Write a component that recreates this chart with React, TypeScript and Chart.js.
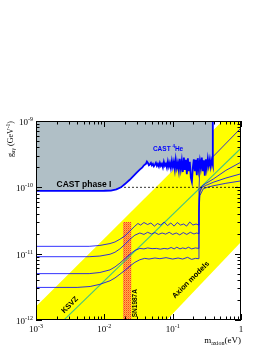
import React, { useEffect, useRef } from 'react';
import { Chart, registerables } from 'chart.js';

Chart.register(...registerables);

const SERIF = '"Liberation Serif", "Times New Roman", serif';
const SANS = '"Liberation Sans", Arial, Helvetica, sans-serif';

// ---- axes ----
const massMin = 1e-3;
const massMax = 1;
const couplingMin = 1e-12;
const couplingMax = 1e-9;
const xMajorTicks = [1e-3, 1e-2, 1e-1, 1];
const xTickBase = ['10', '10', '10', '1'];
const xTickExp = ['-3', '-2', '-1', ''];
const yMajorTicks = [1e-12, 1e-11, 1e-10, 1e-9];
const yTickBase = ['10', '10', '10', '10'];
const yTickExp = ['-12', '-11', '-10', '-9'];

// ---- axion model band (yellow) ----
const bandUpperMass = [1e-3, 1];
const bandUpperCoupling = [1.6e-12, 1.9e-9];
const bandLowerMass = [0.082, 1];
const bandLowerCoupling = [1e-12, 1.5e-11];

// ---- KSVZ line ----
const ksvzMass = [1e-3, 1];
const ksvzCoupling = [3.9e-13, 3.9e-10];

// ---- SN1987A band ----
const snMass = [0.0187, 0.025];
const snCoupling = [3e-11, 3e-11];

// ---- CAST phase I reference (dashed) ----
const refMass = [1e-3, 1];
const refCoupling = [1e-10, 1e-10];

// ---- CAST exclusion (phase I + 4He) ----
const castMass = [
  0.001, 0.005, 0.0100, 0.0125, 0.0150, 0.0175, 0.020, 0.0235, 0.027, 0.030, 0.033, 0.036, 0.038,
  0.0406, 0.0420, 0.0434, 0.0449, 0.0465, 0.0481, 0.0497, 0.0514, 0.0531, 0.0550,
  0.0568, 0.0588, 0.0608, 0.0629, 0.0650, 0.0672, 0.0695, 0.0719, 0.0743, 0.0769,
  0.0796, 0.0823, 0.0851, 0.0880, 0.0910, 0.0941, 0.0973, 0.1006, 0.104, 0.1076,
  0.111, 0.1151, 0.119, 0.1231, 0.127, 0.1316, 0.136, 0.1407, 0.146, 0.1506,
  0.156, 0.1612, 0.167, 0.1724, 0.178, 0.1844, 0.191, 0.1972, 0.204, 0.2109,
  0.218, 0.2255, 0.233, 0.2412, 0.250, 0.2580, 0.267, 0.2760, 0.286, 0.2952,
  0.306, 0.3157, 0.327, 0.3377, 0.350, 0.3612, 0.374, 0.387, 0.387,
];
const castCoupling = [
  8.85e-11, 8.85e-11, 8.88e-11, 8.95e-11, 9.3e-11, 1.0e-10, 1.12e-10, 1.3e-10, 1.5e-10, 1.68e-10, 1.85e-10, 2.0e-10, 2.15e-10,
  2.26e-10, 2.45e-10, 2.34e-10, 2.15e-10, 2.22e-10, 2.34e-10, 2.15e-10, 2.26e-10, 2.08e-10, 2.2e-10,
  2.34e-10, 2.11e-10, 2.26e-10, 2.06e-10, 2.34e-10, 2.11e-10, 2.26e-10, 2.0e-10, 2.42e-10, 2.11e-10,
  2.26e-10, 1.98e-10, 2.45e-10, 2.05e-10, 2.34e-10, 1.95e-10, 2.5e-10, 2.03e-10, 2.42e-10, 1.86e-10,
  2.6e-10, 1.96e-10, 2.34e-10, 1.8e-10, 2.7e-10, 1.9e-10, 2.5e-10, 1.7e-10, 2.8e-10, 1.83e-10,
  2.59e-10, 1.58e-10, 2.75e-10, 1.75e-10, 2.42e-10, 1.4e-10, 1.21e-10, 1.96e-10, 2.65e-10, 1.75e-10,
  2.59e-10, 1.52e-10, 2.75e-10, 1.85e-10, 2.50e-10, 1.96e-10, 2.8e-10, 1.75e-10, 2.55e-10, 1.5e-10,
  2.65e-10, 1.96e-10, 2.7e-10, 2.11e-10, 2.62e-10, 2.05e-10, 2.55e-10, 2.18e-10, 1.5e-9,
];

// ---- sensitivity curves ----
const aMass = [0.001, 0.006, 0.0086, 0.0121, 0.0143, 0.0169, 0.020, 0.0237, 0.028, 0.031, 0.034, 0.038, 0.043, 0.048, 0.054, 0.060, 0.067, 0.075, 0.084, 0.094, 0.105, 0.117, 0.130, 0.145, 0.160, 0.178, 0.198, 0.220, 0.2415, 0.2425, 0.250, 0.300, 0.387, 1];
const aCoupling = [1.29e-11, 1.29e-11, 1.33e-11, 1.42e-11, 1.5e-11, 1.65e-11, 1.85e-11, 2.2e-11, 2.6e-11, 2.85e-11, 2.7e-11, 2.95e-11, 2.75e-11, 2.9e-11, 2.6e-11, 2.85e-11, 2.7e-11, 3.0e-11, 2.65e-11, 2.9e-11, 2.6e-11, 2.95e-11, 2.7e-11, 2.8e-11, 2.6e-11, 3.0e-11, 2.7e-11, 2.8e-11, 2.7e-11, 9e-11, 2.0e-10, 2.45e-10, 2.88e-10, 7.85e-10];

const bMass = [0.001, 0.006, 0.0086, 0.0121, 0.0143, 0.0169, 0.020, 0.0237, 0.028, 0.0331, 0.038, 0.043, 0.049, 0.055, 0.062, 0.070, 0.079, 0.089, 0.100, 0.113, 0.127, 0.143, 0.161, 0.181, 0.205, 0.225, 0.2415, 0.2425, 0.250, 0.270, 0.300, 0.400, 0.600, 1];
const bCoupling = [9.0e-12, 9.0e-12, 9.2e-12, 9.8e-12, 1.05e-11, 1.18e-11, 1.38e-11, 1.65e-11, 1.9e-11, 2.05e-11, 1.95e-11, 2.1e-11, 1.98e-11, 2.08e-11, 1.95e-11, 2.05e-11, 1.97e-11, 2.1e-11, 1.95e-11, 2.05e-11, 1.92e-11, 2.08e-11, 1.95e-11, 2.1e-11, 1.98e-11, 2.05e-11, 2.0e-11, 6.5e-11, 9.0e-11, 1.05e-10, 1.13e-10, 1.35e-10, 1.8e-10, 2.4e-10];

const cMass = [0.001, 0.006, 0.0086, 0.0121, 0.0143, 0.0169, 0.020, 0.0237, 0.028, 0.0331, 0.038, 0.043, 0.050, 0.058, 0.066, 0.075, 0.085, 0.095, 0.105, 0.115, 0.128, 0.140, 0.155, 0.170, 0.190, 0.215, 0.2415, 0.2425, 0.250, 0.270, 0.300, 0.400, 0.600, 1];
const cCoupling = [5.0e-12, 5.0e-12, 5.2e-12, 5.7e-12, 6.3e-12, 7.2e-12, 8.4e-12, 9.8e-12, 1.12e-11, 1.2e-11, 1.18e-11, 1.22e-11, 1.19e-11, 1.2e-11, 1.17e-11, 1.2e-11, 1.18e-11, 1.24e-11, 1.18e-11, 1.25e-11, 1.18e-11, 1.22e-11, 1.19e-11, 1.25e-11, 1.18e-11, 1.22e-11, 1.2e-11, 5.0e-11, 8.5e-11, 1.0e-10, 1.06e-10, 1.2e-10, 1.38e-10, 1.6e-10];

const dMass = [0.001, 0.004, 0.0062, 0.0086, 0.0121, 0.0143, 0.0169, 0.020, 0.0237, 0.028, 0.0331, 0.039, 0.045, 0.055, 0.065, 0.080, 0.100, 0.120, 0.140, 0.165, 0.190, 0.215, 0.2415, 0.2425, 0.250, 0.280, 0.320, 0.400, 0.600, 1];
const dCoupling = [3.1e-12, 3.1e-12, 3.2e-12, 3.45e-12, 3.9e-12, 4.3e-12, 4.9e-12, 5.6e-12, 6.5e-12, 7.4e-12, 8.1e-12, 8.5e-12, 8.3e-12, 8.6e-12, 8.4e-12, 8.7e-12, 8.3e-12, 8.6e-12, 8.3e-12, 8.8e-12, 8.2e-12, 8.5e-12, 8.4e-12, 4.0e-11, 7.5e-11, 9.5e-11, 1.0e-10, 1.06e-10, 1.15e-10, 1.25e-10];

// ---- label anchors (data coordinates) ----
const castPhaseIPos = [2.0e-3, 1.02e-10];
const cast4HePos = [0.0514, 3.54e-10];
const snLabelPos = [0.0302, 1.1e-12];
const ksvzLabelPos = [3.09e-3, 1.71e-12];
const axionLabelPos = [0.1815, 4.07e-12];

const pts = (xs: number[], ys: number[]) => xs.map((x, i) => ({ x, y: ys[i] }));

type Part = { t: string; font: string; dy?: number };

function drawRich(ctx: CanvasRenderingContext2D, parts: Part[], x: number, y: number, align: 'left' | 'center' | 'right', angle = 0, color = '#000') {
  ctx.save();
  ctx.translate(x, y);
  if (angle) ctx.rotate(angle);
  ctx.fillStyle = color;
  ctx.textAlign = 'left';
  ctx.textBaseline = 'alphabetic';
  let w = 0;
  const widths = parts.map((p) => {
    ctx.font = p.font;
    const m = ctx.measureText(p.t).width;
    w += m;
    return m;
  });
  let cx = align === 'left' ? 0 : align === 'center' ? -w / 2 : -w;
  parts.forEach((p, i) => {
    ctx.font = p.font;
    ctx.fillText(p.t, cx, p.dy || 0);
    cx += widths[i];
  });
  ctx.restore();
}

const overlayPlugin = {
  id: 'overlay',
  afterDatasetsDraw(chart: any) {
    const ctx: CanvasRenderingContext2D = chart.ctx;
    const xs = chart.scales.x;
    const ys = chart.scales.y;
    const px = (m: number) => xs.getPixelForValue(m);
    const py = (g: number) => ys.getPixelForValue(g);

    drawRich(ctx, [{ t: 'CAST phase I', font: `bold 8.5px ${SANS}` }], px(castPhaseIPos[0]), py(castPhaseIPos[1]), 'left');
    drawRich(
      ctx,
      [
        { t: 'CAST ', font: `bold 6.5px ${SANS}` },
        { t: '4', font: `bold 4.5px ${SANS}`, dy: -3 },
        { t: 'He', font: `bold 6.5px ${SANS}` },
      ],
      px(cast4HePos[0]),
      py(cast4HePos[1]),
      'left',
      0,
      '#0000ff'
    );
    drawRich(ctx, [{ t: 'SN1987A', font: `bold 6.5px ${SANS}` }], px(snLabelPos[0]), py(snLabelPos[1]), 'left', -Math.PI / 2);
    drawRich(ctx, [{ t: 'KSVZ', font: `bold 7.5px ${SANS}`, dy: 2.7 }], px(ksvzLabelPos[0]), py(ksvzLabelPos[1]), 'center', -Math.PI / 4);
    drawRich(ctx, [{ t: 'Axion models', font: `bold 7.5px ${SANS}`, dy: 2.7 }], px(axionLabelPos[0]), py(axionLabelPos[1]), 'center', -Math.PI / 4);
  },
  afterDraw(chart: any) {
    const ctx: CanvasRenderingContext2D = chart.ctx;
    const xs = chart.scales.x;
    const ys = chart.scales.y;
    const a = chart.chartArea;
    ctx.save();
    ctx.strokeStyle = '#000';
    ctx.lineWidth = 1;
    ctx.strokeRect(Math.round(a.left) + 0.5, Math.round(a.top) + 0.5, Math.round(a.right - a.left) - 1, Math.round(a.bottom - a.top) - 1);

    ctx.beginPath();
    xMajorTicks.forEach((v, i) => {
      const vals = [v];
      if (i < xMajorTicks.length - 1) for (let k = 2; k <= 9; k++) vals.push(k * v);
      vals.forEach((t, j) => {
        const len = j === 0 ? 6 : 3.5;
        const x = Math.round(xs.getPixelForValue(t)) + 0.5;
        ctx.moveTo(x, a.bottom);
        ctx.lineTo(x, a.bottom - len);
        ctx.moveTo(x, a.top);
        ctx.lineTo(x, a.top + len);
      });
    });
    yMajorTicks.forEach((v, i) => {
      const vals = [v];
      if (i < yMajorTicks.length - 1) for (let k = 2; k <= 9; k++) vals.push(k * v);
      vals.forEach((t, j) => {
        const len = j === 0 ? 6 : 3.5;
        const y = Math.round(ys.getPixelForValue(t)) + 0.5;
        ctx.moveTo(a.left, y);
        ctx.lineTo(a.left + len, y);
        ctx.moveTo(a.right, y);
        ctx.lineTo(a.right - len, y);
      });
    });
    ctx.stroke();
    ctx.restore();

    xMajorTicks.forEach((v, i) => {
      const parts: Part[] = [{ t: xTickBase[i], font: `9px ${SERIF}` }];
      if (xTickExp[i]) parts.push({ t: xTickExp[i], font: `6px ${SERIF}`, dy: -4 });
      drawRich(ctx, parts, xs.getPixelForValue(v), a.bottom + 12, 'center');
    });
    yMajorTicks.forEach((v, i) => {
      const parts: Part[] = [{ t: yTickBase[i], font: `9px ${SERIF}` }];
      if (yTickExp[i]) parts.push({ t: yTickExp[i], font: `6px ${SERIF}`, dy: -4 });
      drawRich(ctx, parts, a.left - 3, ys.getPixelForValue(v) + 4, 'right');
    });

    drawRich(
      ctx,
      [
        { t: 'm', font: `9px ${SERIF}` },
        { t: 'axion', font: `6px ${SERIF}`, dy: 2 },
        { t: '(eV)', font: `9px ${SERIF}` },
      ],
      a.right,
      a.bottom + 23,
      'right'
    );
    drawRich(
      ctx,
      [
        { t: 'g', font: `8px ${SERIF}` },
        { t: 'a\u03b3', font: `5.5px ${SERIF}`, dy: 2 },
        { t: ' (GeV', font: `8px ${SERIF}` },
        { t: '-1', font: `5.5px ${SERIF}`, dy: -3.5 },
        { t: ')', font: `8px ${SERIF}` },
      ],
      13,
      a.top,
      'right',
      -Math.PI / 2
    );
  },
};

export default function App() {
  const ref = useRef<HTMLCanvasElement | null>(null);
  useEffect(() => {
    const canvas = ref.current;
    if (!canvas) return;
    const ctx = canvas.getContext('2d')!;
    const pc = document.createElement('canvas');
    pc.width = 2;
    pc.height = 2;
    const pg = pc.getContext('2d')!;
    pg.fillStyle = '#ffb347';
    pg.fillRect(0, 0, 2, 2);
    pg.fillStyle = '#ff3a1a';
    pg.fillRect(0, 0, 1, 1);
    pg.fillStyle = '#ff7a30';
    pg.fillRect(1, 1, 1, 1);
    const hatch = ctx.createPattern(pc, 'repeat') || '#ff8040';

    const common = { pointRadius: 0, tension: 0, clip: 0 };
    const curve = (xsArr: number[], ysArr: number[]) => ({
      ...common,
      data: pts(xsArr, ysArr),
      borderColor: 'rgba(0,0,255,0.8)',
      borderWidth: 1,
      fill: false,
      order: 60,
    });

    const chart = new Chart(canvas, {
      type: 'line',
      data: {
        datasets: [
          { ...common, data: pts(bandUpperMass, bandUpperCoupling), borderWidth: 0, fill: 'start', backgroundColor: '#ffff00', order: 100 },
          { ...common, data: pts(bandLowerMass, bandLowerCoupling), borderWidth: 0, fill: 'start', backgroundColor: '#ffffff', order: 90 },
          { ...common, data: pts(snMass, snCoupling), borderWidth: 0, fill: 'start', backgroundColor: hatch as any, order: 80 },
          { ...common, data: pts(ksvzMass, ksvzCoupling), borderColor: '#45c47f', borderWidth: 1.1, fill: false, order: 70 },
          curve(aMass, aCoupling),
          curve(bMass, bCoupling),
          curve(cMass, cCoupling),
          curve(dMass, dCoupling),
          { ...common, data: pts(refMass, refCoupling), borderColor: '#000000', borderWidth: 0.8, borderDash: [2, 2], fill: false, order: 55 },
          { ...common, data: pts(castMass, castCoupling), borderColor: '#0000ff', borderWidth: 1.8, fill: 'end', backgroundColor: '#b0bfc6', order: 50 },
        ] as any,
      },
      options: {
        responsive: false,
        animation: false,
        events: [],
        layout: { padding: { left: 36, right: 33, top: 121, bottom: 34 } },
        scales: {
          x: { type: 'logarithmic', min: massMin, max: massMax, display: false },
          y: { type: 'logarithmic', min: couplingMin, max: couplingMax, display: false },
        },
        plugins: {
          legend: { display: false },
          tooltip: { enabled: false },
          filler: { propagate: false },
        },
      } as any,
      plugins: [overlayPlugin],
    });
    return () => chart.destroy();
  }, []);

  return (
    <div style={{ position: 'absolute', left: 0, top: 0, width: 274, height: 354, background: '#fff' }}>
      <canvas ref={ref} width={274} height={354} style={{ display: 'block', width: 274, height: 354 }} />
    </div>
  );
}
